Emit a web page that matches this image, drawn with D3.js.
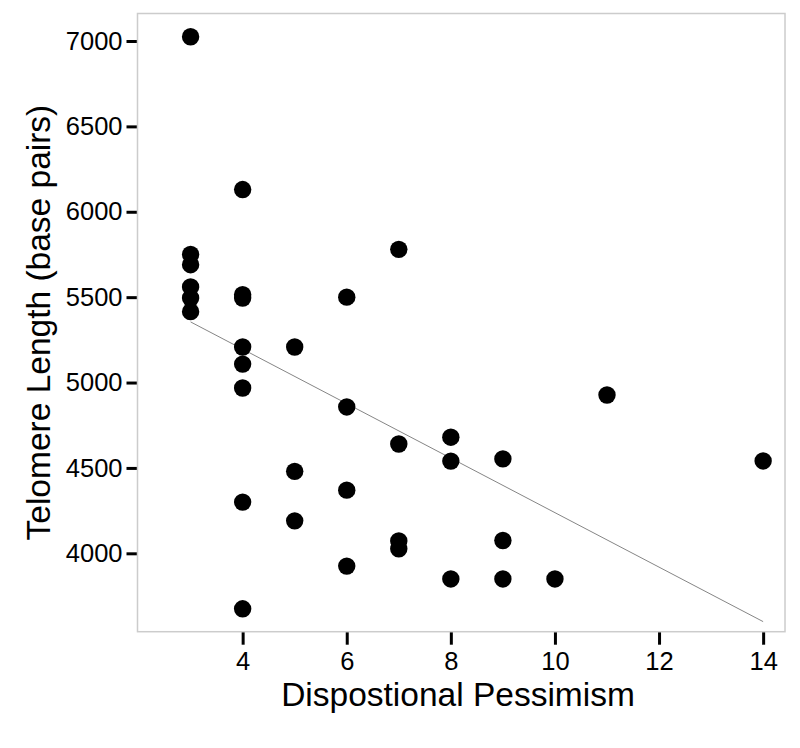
<!DOCTYPE html>
<html>
<head>
<meta charset="utf-8">
<script src="https://cdn.jsdelivr.net/npm/d3@7"></script>
<style>
  html, body { margin: 0; padding: 0; background: #fff; }
  svg { display: block; }
  text { font-family: "Liberation Sans", Arial, sans-serif; fill: #000; }
</style>
</head>
<body>
<svg id="chart" width="800" height="748"></svg>
<script>
// Data
const pessimism = [3, 3, 3, 3, 3, 3,
                   4, 4, 4, 4, 4, 4, 4, 4,
                   5, 5, 5,
                   6, 6, 6, 6,
                   7, 7, 7, 7,
                   8, 8, 8,
                   9, 9, 9,
                   10, 11, 14];
const telomere = [7025, 5750, 5690, 5560, 5495, 5415,
                  6130, 5515, 5495, 5208, 5108, 4968, 4300, 3675,
                  5208, 4480, 4190,
                  5500, 4857, 4370, 3925,
                  5780, 4640, 4072, 4026,
                  4680, 4540, 3850,
                  4553, 4075, 3850,
                  3850, 4927, 4541];
// Fitted line (end points)
const fitX = [3, 14];
const fitY = [5355, 3600];

const xTicks = [4, 6, 8, 10, 12, 14];
const yTicks = [4000, 4500, 5000, 5500, 6000, 6500, 7000];

const xLabel = "Dispostional Pessimism";
const yLabel = "Telomere Length (base pairs)";

const svg = d3.select("#chart");
const panel = { left: 137.5, right: 785, top: 13.5, bottom: 631.7 };

const x = d3.scaleLinear().domain([1.98, 14.42]).range([panel.left, panel.right]);
const y = d3.scaleLinear().domain([3541, 7161]).range([panel.bottom, panel.top]);

// Panel background
svg.append("rect")
  .attr("x", panel.left).attr("y", panel.top)
  .attr("width", panel.right - panel.left).attr("height", panel.bottom - panel.top)
  .attr("fill", "#fff");

// Axes
const xAxis = svg.append("g")
  .attr("transform", `translate(0,${panel.bottom})`)
  .call(d3.axisBottom(x).tickValues(xTicks).tickSize(13).tickPadding(7).tickFormat(d3.format("d")));
xAxis.select(".domain").remove();
xAxis.selectAll(".tick line").attr("stroke", "#000").attr("stroke-width", 3);
xAxis.selectAll(".tick text").attr("font-size", 25.5).attr("fill", "#000")
  .attr("font-family", "Liberation Sans, Arial, sans-serif");

const yAxis = svg.append("g")
  .attr("transform", `translate(${panel.left},0)`)
  .call(d3.axisLeft(y).tickValues(yTicks).tickSize(11).tickPadding(4).tickFormat(d3.format("d")));
yAxis.select(".domain").remove();
yAxis.selectAll(".tick line").attr("stroke", "#000").attr("stroke-width", 3);
yAxis.selectAll(".tick text").attr("font-size", 25.5).attr("fill", "#000")
  .attr("font-family", "Liberation Sans, Arial, sans-serif");

// Fit line
const line = d3.line().x(d => x(d[0])).y(d => y(d[1]));
svg.append("path")
  .datum(fitX.map((v, i) => [v, fitY[i]]))
  .attr("d", line)
  .attr("fill", "none")
  .attr("stroke", "#777")
  .attr("stroke-width", 0.9);

// Points
svg.append("g").selectAll("circle")
  .data(pessimism.map((v, i) => [v, telomere[i]]))
  .join("circle")
  .attr("cx", d => x(d[0]))
  .attr("cy", d => y(d[1]))
  .attr("r", 8.7)
  .attr("fill", "#000");

// Panel border
svg.append("rect")
  .attr("x", panel.left).attr("y", panel.top)
  .attr("width", panel.right - panel.left).attr("height", panel.bottom - panel.top)
  .attr("fill", "none")
  .attr("stroke", "#cccccc")
  .attr("stroke-width", 1.5);

// Axis titles
svg.append("text")
  .attr("x", 458)
  .attr("y", 706)
  .attr("text-anchor", "middle")
  .attr("font-size", 33.5)
  .text(xLabel);

svg.append("text")
  .attr("transform", `translate(50,${(panel.top + panel.bottom) / 2}) rotate(-90)`)
  .attr("text-anchor", "middle")
  .attr("font-size", 33.5)
  .text(yLabel);
</script>
</body>
</html>
